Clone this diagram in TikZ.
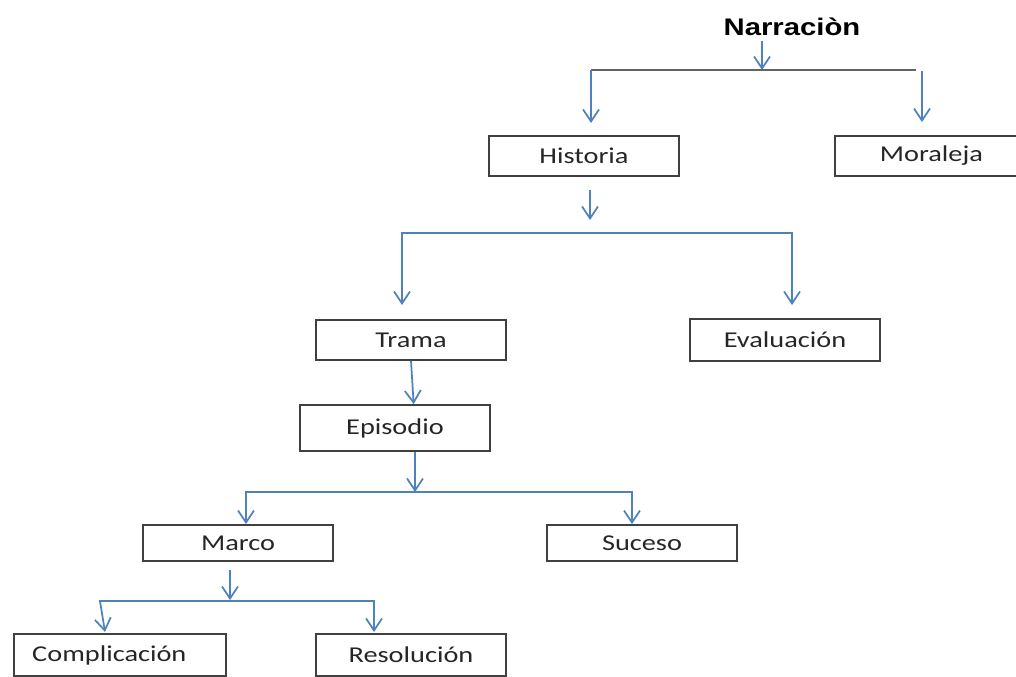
\documentclass[tikz,border=0pt]{standalone}
\usepackage{fontspec}
\setmainfont{Carlito}[FakeStretch=1.25]
\newfontfamily\titlefont{Liberation Sans}[FakeStretch=1.22]
\usetikzlibrary{arrows.meta}
\definecolor{linkblue}{RGB}{79,129,189}
\definecolor{boxgray}{RGB}{64,64,64}
\definecolor{bargray}{RGB}{100,100,100}

\begin{document}
\begin{tikzpicture}[x=0.75pt, y=-0.75pt,
	box/.style={draw=boxgray, line width=1.4pt, minimum width=142.5pt,
		minimum height=30pt, inner sep=0pt, text=black!85,
		font=\fontsize{17}{20}\selectfont},
	arr/.style={draw=linkblue, line width=1.3pt,
		-{Straight Barb[length=9pt, width=12pt, line width=1.3pt]}}]
\useasboundingbox (0,0) rectangle (1016,677);
\node[font=\titlefont\bfseries\fontsize{18}{22}\selectfont] (narr) at (792,27) {Narraciòn};
\node[box] (historia) at (584,156) {Historia};
\node[box, minimum width=136.5pt] (moraleja) at (926,156) {\hspace*{8pt}Moraleja};
\node[box] (trama) at (411,340) {Trama};
\node[box, minimum height=31.5pt] (evaluacion) at (785,340) {Evaluación};
\node[box, minimum height=34.5pt] (episodio) at (395,428) {Episodio};
\node[box, minimum height=27pt] (marco) at (238,543) {Marco};
\node[box, minimum height=27pt] (suceso) at (642,543) {Suceso};
\node[box, minimum width=159pt, minimum height=31.5pt] (complicacion) at (120,655) {\hspace*{-16pt}Complicación};
\node[box, minimum height=31.5pt] (resolucion) at (411,655) {Resolución};
% junctions of the branches
\coordinate (j1) at (762,70);
\coordinate (j2) at (590,233);
\coordinate (j3) at (415,492);
\coordinate (j4) at (230,601);
% Narracion
\draw[arr] (narr.south -| j1) -- (j1);
\draw[draw=bargray, line width=1.4pt] (j1) -- ++(-171,0) coordinate (j1l)
	(j1) -- ++(154,0);
\draw[arr] (j1l) -- ++(0,53);
\draw[arr] (moraleja.north) ++(-4,-64) -- ++(0,51);
% Historia
\draw[arr] (j2) ++(0,-43) -- ++(0,30);
\draw[arr] (j2) -- ++(-188,0) -- ++(0,72);
\draw[arr] (j2) -- ++(202,0) -- ++(0,72);
% Trama, Episodio
\draw[arr] (trama.south) -- ([xshift=14pt]episodio.north);
\draw[arr] (episodio.south -| j3) -- (j3);
\draw[arr] (j3) -- ++(-169,0) -- (marco.north -| 246,0);
\draw[arr] (j3) -- ++(217,0) -- (suceso.north -| 632,0);
% Marco
\draw[arr] (j4) ++(0,-31) -- ++(0,30);
\draw[arr] (j4) -- ++(-130,0) -- ++(5,31);
\draw[arr] (j4) -- ++(144,0) -- ++(0,31);
\end{tikzpicture}
\end{document}
